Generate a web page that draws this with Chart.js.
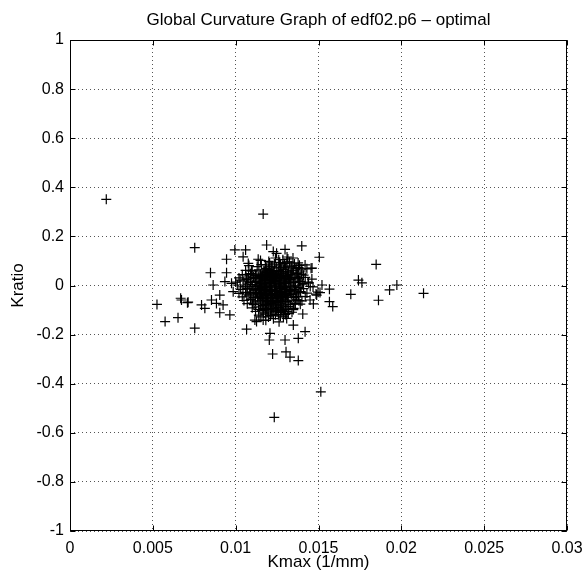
<!DOCTYPE html>
<html>
<head>
<meta charset="utf-8">
<script src="https://cdn.jsdelivr.net/npm/chart.js@4/dist/chart.umd.min.js"></script>
<style>
html, body { margin: 0; padding: 0; background: #fff; }
</style>
</head>
<body>
<canvas id="myChart" width="583" height="571"></canvas>
<script>
// isolated points around the cloud
var outKmax = [
  0.00219, 0.00525, 0.00574, 0.00652, 0.00668, 0.00709, 0.00753, 0.00995, 0.0106, 0.00945,
  0.00848, 0.00945, 0.01045, 0.01076, 0.01136, 0.01166, 0.01187, 0.01399, 0.01298, 0.01227,
  0.01505, 0.01455, 0.01247, 0.01848, 0.01741, 0.01762, 0.01973, 0.01929, 0.01695, 0.02134,
  0.01862, 0.01566, 0.01566, 0.01586, 0.01469, 0.01509, 0.01405, 0.01485, 0.00864, 0.00935,
  0.00673, 0.00713, 0.00794, 0.00814, 0.00854, 0.00904, 0.00884, 0.00924, 0.00904, 0.00965,
  0.00753, 0.00985, 0.00975, 0.01066, 0.01116, 0.01449, 0.01489, 0.01348, 0.01419, 0.01207,
  0.01298, 0.01378, 0.01126, 0.01166, 0.01308, 0.01203, 0.01223, 0.01304, 0.01328, 0.01378,
  0.01514, 0.01233, 0.01467, 0.01497, 0.01521, 0.01437, 0.01461, 0.01419, 0.01377, 0.01346,
  0.01310, 0.01027, 0.01044, 0.01062
];
var outKratio = [
  0.351, -0.077, -0.147, -0.131, -0.052, -0.070, 0.154, 0.145, 0.145, 0.107,
  0.052, 0.052, 0.117, 0.090, 0.107, 0.291, 0.165, 0.161, 0.147, 0.138,
  0.115, 0.070, 0.131, 0.086, 0.022, 0.011, 0.002, -0.018, -0.036, -0.032,
  -0.060, -0.015, -0.066, -0.086, -0.075, -0.029, -0.116, -0.035, 0.002, 0.016,
  -0.059, -0.068, -0.079, -0.093, -0.059, -0.039, -0.073, -0.079, -0.111, -0.120,
  -0.174, -0.025, 0.009, -0.178, -0.141, -0.059, -0.039, -0.161, -0.188, -0.195,
  -0.222, -0.215, -0.147, -0.141, -0.134, -0.222, -0.279, -0.270, -0.292, -0.306,
  -0.433, -0.537, -0.006, -0.027, 0.002, 0.014, 0.071, 0.084, 0.092, 0.112,
  0.116, 0.022, -0.006, 0.043
];

// the dense cloud, read row by row from top to bottom
var coreKmax = [
  0.0115, 0.0120, 0.0126, 0.0131, 0.0124,
  0.0108, 0.0113, 0.0118, 0.0122, 0.0127, 0.0130, 0.0134, 0.0138,
  0.0106, 0.0110, 0.0114, 0.0117, 0.0120, 0.0123, 0.0126, 0.0129, 0.0132, 0.0135, 0.0140, 0.0143,
  0.0104, 0.0109, 0.0112, 0.0115, 0.0118, 0.0121, 0.0124, 0.0127, 0.0130, 0.0133, 0.0137, 0.0141,
  0.0102, 0.0107, 0.0111, 0.0114, 0.0116, 0.0119, 0.0122, 0.0125, 0.0128, 0.0131, 0.0134, 0.0138, 0.0142, 0.0146,
  0.0100, 0.0105, 0.0109, 0.0112, 0.0115, 0.0117, 0.0120, 0.0123, 0.0126, 0.0129, 0.0132, 0.0135, 0.0139, 0.0144,
  0.0101, 0.0106, 0.0110, 0.0113, 0.0116, 0.0118, 0.0121, 0.0124, 0.0127, 0.0130, 0.0133, 0.0136, 0.0140, 0.0145,
  0.0103, 0.0107, 0.0111, 0.0114, 0.0117, 0.0119, 0.0122, 0.0125, 0.0128, 0.0131, 0.0134, 0.0137, 0.0141,
  0.0102, 0.0106, 0.0109, 0.0112, 0.0115, 0.0118, 0.0121, 0.0124, 0.0127, 0.0130, 0.0133, 0.0136, 0.0139, 0.0143,
  0.0104, 0.0108, 0.0111, 0.0114, 0.0117, 0.0120, 0.0123, 0.0126, 0.0129, 0.0132, 0.0135, 0.0138, 0.0142,
  0.0105, 0.0109, 0.0112, 0.0116, 0.0119, 0.0122, 0.0125, 0.0128, 0.0131, 0.0134, 0.0137, 0.0140,
  0.0107, 0.0111, 0.0115, 0.0118, 0.0121, 0.0124, 0.0127, 0.0130, 0.0133, 0.0136, 0.0139,
  0.0110, 0.0114, 0.0117, 0.0120, 0.0123, 0.0126, 0.0129, 0.0132, 0.0135,
  0.0112, 0.0116, 0.0119, 0.0122, 0.0125, 0.0128, 0.0131, 0.0134,
  0.0114, 0.0118, 0.0121, 0.0124, 0.0127, 0.0130,
  0.01165, 0.01195, 0.01225, 0.01255, 0.01285,
  0.01155, 0.01185, 0.01215, 0.01245, 0.01275, 0.01305,
  0.01145, 0.01175, 0.01205, 0.01235, 0.01265, 0.01295, 0.01325,
  0.01145, 0.01175, 0.01205, 0.01235, 0.01265, 0.01295,
  0.01155, 0.01185, 0.01215, 0.01245, 0.01275, 0.01305,
  0.01145, 0.01175, 0.01205, 0.01235, 0.01265, 0.01295, 0.01325,
  0.01155, 0.01185, 0.01215, 0.01245, 0.01275, 0.01305,
  0.01165, 0.01195, 0.01225, 0.01255, 0.01285,
  0.01185, 0.01215, 0.01245, 0.01275,
  0.01175, 0.01205, 0.01232, 0.01262, 0.01288, 0.01318,
  0.01128, 0.01162, 0.01192, 0.01218, 0.01248, 0.01278, 0.01312, 0.01338,
  0.01122, 0.01152, 0.01182, 0.01212, 0.01242, 0.01272, 0.01302, 0.01332, 0.01358,
  0.01118, 0.01148, 0.01178, 0.01208, 0.01238, 0.01268, 0.01298, 0.01328, 0.01352,
  0.01122, 0.01152, 0.01182, 0.01212, 0.01242, 0.01272, 0.01302, 0.01332, 0.01362,
  0.01118, 0.01148, 0.01178, 0.01208, 0.01238, 0.01268, 0.01298, 0.01328, 0.01355,
  0.01125, 0.01155, 0.01185, 0.01215, 0.01245, 0.01275, 0.01305, 0.01335,
  0.01132, 0.01162, 0.01192, 0.01222, 0.01252, 0.01282, 0.01312,
  0.01148, 0.01178, 0.01208, 0.01238, 0.01268, 0.01298,
  0.01165, 0.01195, 0.01225, 0.01255, 0.01285,
  0.01185, 0.01215, 0.01245, 0.01275
];
var coreKratio = [
  0.102, 0.098, 0.105, 0.096, 0.112,
  0.081, 0.077, 0.084, 0.079, 0.083, 0.075, 0.080, 0.073,
  0.062, 0.058, 0.064, 0.059, 0.066, 0.057, 0.061, 0.065, 0.056, 0.063, 0.059, 0.068,
  0.044, 0.048, 0.041, 0.046, 0.042, 0.049, 0.043, 0.047, 0.040, 0.045, 0.048, 0.042,
  0.031, 0.027, 0.033, 0.029, 0.034, 0.026, 0.032, 0.028, 0.035, 0.029, 0.032, 0.027, 0.033, 0.026,
  0.014, 0.018, 0.012, 0.016, 0.011, 0.019, 0.013, 0.017, 0.010, 0.015, 0.018, 0.012, 0.016, 0.011,
  0.002, -0.003, 0.004, -0.001, 0.003, -0.004, 0.001, -0.002, 0.005, -0.003, 0.002, -0.001, 0.003, -0.004,
  -0.016, -0.012, -0.018, -0.013, -0.017, -0.011, -0.015, -0.019, -0.012, -0.016, -0.014, -0.019, -0.013,
  -0.032, -0.028, -0.034, -0.029, -0.033, -0.027, -0.031, -0.035, -0.028, -0.032, -0.026, -0.034, -0.029, -0.031,
  -0.046, -0.042, -0.048, -0.043, -0.047, -0.041, -0.049, -0.044, -0.046, -0.042, -0.048, -0.044, -0.045,
  -0.061, -0.057, -0.063, -0.058, -0.064, -0.059, -0.062, -0.056, -0.065, -0.060, -0.058, -0.063,
  -0.074, -0.078, -0.072, -0.077, -0.073, -0.079, -0.075, -0.071, -0.078, -0.074, -0.076,
  -0.091, -0.087, -0.093, -0.088, -0.094, -0.089, -0.092, -0.086, -0.093,
  -0.106, -0.102, -0.108, -0.103, -0.107, -0.101, -0.105, -0.109,
  -0.121, -0.117, -0.123, -0.119, -0.124, -0.118,
  0.051, 0.053, 0.049, 0.054, 0.050,
  0.037, 0.039, 0.036, 0.040, 0.038, 0.035,
  0.022, 0.021, 0.024, 0.020, 0.023, 0.022, 0.025,
  0.008, 0.006, 0.009, 0.005, 0.007, 0.009,
  -0.008, -0.009, -0.007, -0.010, -0.006, -0.008,
  -0.023, -0.022, -0.024, -0.021, -0.025, -0.022, -0.023,
  -0.038, -0.039, -0.036, -0.040, -0.037, -0.039,
  -0.053, -0.051, -0.054, -0.052, -0.050,
  -0.068, -0.067, -0.069, -0.066,
  0.058, 0.061, 0.055, 0.060, 0.057, 0.054,
  0.043, 0.040, 0.045, 0.041, 0.044, 0.039, 0.046, 0.042,
  0.028, 0.031, 0.026, 0.030, 0.027, 0.032, 0.029, 0.025, 0.030,
  0.013, 0.010, 0.015, 0.012, 0.016, 0.011, 0.014, 0.010, 0.013,
  -0.004, -0.001, -0.006, -0.002, -0.005, -0.001, -0.004, -0.007, -0.003,
  -0.019, -0.016, -0.021, -0.017, -0.020, -0.015, -0.018, -0.021, -0.017,
  -0.034, -0.031, -0.036, -0.032, -0.035, -0.030, -0.033, -0.036,
  -0.049, -0.046, -0.051, -0.047, -0.050, -0.045, -0.048,
  -0.064, -0.061, -0.066, -0.062, -0.065, -0.060,
  -0.081, -0.083, -0.079, -0.084, -0.080,
  -0.097, -0.095, -0.099, -0.096
];

// fringe of the cloud: top, left, right and bottom edges
var edgeKmax = [
  0.01205, 0.01235, 0.01265, 0.01295, 0.01325, 0.01355, 0.01385, 0.01275, 0.01305, 0.01335,
  0.01365, 0.01245, 0.01215, 0.01185, 0.01155, 0.01345, 0.01375, 0.01395, 0.01285, 0.01315,
  0.01065, 0.01075, 0.01085, 0.01068, 0.01092, 0.01078, 0.01095, 0.01102, 0.01088, 0.01098,
  0.01105, 0.01108,
  0.01372, 0.01385, 0.01378, 0.01392, 0.01368, 0.01382, 0.01398, 0.01405, 0.01365, 0.01358,
  0.01138, 0.01168, 0.01198, 0.01228, 0.01258, 0.01288, 0.01318, 0.01348, 0.01212, 0.01242,
  0.01272, 0.01302, 0.01182, 0.01262, 0.01152
];
var edgeKratio = [
  0.092, 0.087, 0.094, 0.089, 0.095, 0.088, 0.082, 0.075, 0.071, 0.076,
  0.070, 0.072, 0.076, 0.070, 0.085, 0.060, 0.052, 0.068, 0.105, 0.108,
  0.025, 0.005, -0.015, -0.035, -0.055, 0.045, 0.062, -0.072, 0.018, -0.005,
  -0.028, 0.035,
  0.035, 0.018, -0.008, -0.025, -0.045, -0.062, 0.045, 0.008, 0.050, -0.072,
  -0.098, -0.112, -0.128, -0.135, -0.118, -0.128, -0.114, -0.098, -0.112, -0.104,
  -0.110, -0.097, -0.142, -0.148, -0.128
];

var xTicks = [0, 0.005, 0.01, 0.015, 0.02, 0.025, 0.03];
var yTicks = [-1, -0.8, -0.6, -0.4, -0.2, 0, 0.2, 0.4, 0.6, 0.8, 1];
var titleText = 'Global Curvature Graph of edf02.p6 \u2013 optimal';

var kmax = outKmax.concat(coreKmax, edgeKmax);
var kratio = outKratio.concat(coreKratio, edgeKratio);
var points = kmax.map(function (x, i) { return { x: x, y: kratio[i] }; });

var fontFam = "'Liberation Sans', Arial, Helvetica, sans-serif";
Chart.defaults.font.family = fontFam;
Chart.defaults.font.size = 16;
Chart.defaults.color = '#000';

// box round the plot, inward tick marks, and the title centred over the plot
var frame = {
  id: 'frame',
  afterDraw: function (chart) {
    var ctx = chart.ctx, a = chart.chartArea, sx = chart.scales.x, sy = chart.scales.y;
    var L = Math.round(a.left) + 0.5, R = Math.round(a.right) - 0.5;
    var T = Math.round(a.top) + 0.5, B = Math.round(a.bottom) - 0.5;
    ctx.save();
    ctx.strokeStyle = '#000';
    ctx.lineWidth = 1;
    ctx.beginPath();
    xTicks.forEach(function (v) {
      var p = Math.round(sx.getPixelForValue(v)) + 0.5;
      ctx.moveTo(p, B); ctx.lineTo(p, B - 5);
      ctx.moveTo(p, T); ctx.lineTo(p, T + 5);
    });
    yTicks.forEach(function (v) {
      var p = Math.round(sy.getPixelForValue(v)) + 0.5;
      ctx.moveTo(L, p); ctx.lineTo(L + 5, p);
      ctx.moveTo(R, p); ctx.lineTo(R - 5, p);
    });
    ctx.stroke();
    ctx.strokeRect(L, T, R - L, B - T);
    ctx.fillStyle = '#000';
    ctx.font = '17px ' + fontFam;
    ctx.textAlign = 'center';
    ctx.textBaseline = 'middle';
    ctx.fillText(titleText, (a.left + a.right) / 2, 20);
    ctx.restore();
  }
};

function fmt(v) { return String(Number(v.toFixed(4))); }

new Chart('myChart', {
  type: 'scatter',
  data: {
    datasets: [{
      data: points,
      pointStyle: 'cross',
      pointRadius: 5,
      pointHoverRadius: 5,
      borderColor: '#000',
      backgroundColor: '#000',
      pointBorderWidth: 1.2
    }]
  },
  options: {
    responsive: false,
    animation: false,
    events: [],
    layout: { padding: { left: 0, right: 16, top: 40, bottom: 0 } },
    plugins: {
      legend: { display: false },
      tooltip: { enabled: false },
      title: { display: false }
    },
    scales: {
      x: {
        type: 'linear',
        min: 0,
        max: 0.03,
        afterBuildTicks: function (s) { s.ticks = xTicks.map(function (v) { return { value: v }; }); },
        afterFit: function (s) { s.height = 40; s.paddingLeft = 0; s.paddingRight = 0; },
        ticks: { padding: 8, maxRotation: 0, callback: fmt },
        grid: { color: '#555', lineWidth: 1, drawTicks: false },
        border: { display: false, dash: [1, 3] },
        title: { display: true, text: 'Kmax (1/mm)', font: { size: 17 }, padding: { top: 0, bottom: -2 } }
      },
      y: {
        type: 'linear',
        min: -1,
        max: 1,
        afterBuildTicks: function (s) { s.ticks = yTicks.map(function (v) { return { value: v }; }); },
        afterFit: function (s) { s.width = 70; s.paddingTop = 0; s.paddingBottom = 0; },
        ticks: { padding: 6, callback: fmt },
        grid: { color: '#555', lineWidth: 1, drawTicks: false },
        border: { display: false, dash: [1, 3] },
        title: { display: true, text: 'Kratio', font: { size: 17 }, padding: { top: 8, bottom: 0 } }
      }
    }
  },
  plugins: [frame]
});
</script>
</body>
</html>
